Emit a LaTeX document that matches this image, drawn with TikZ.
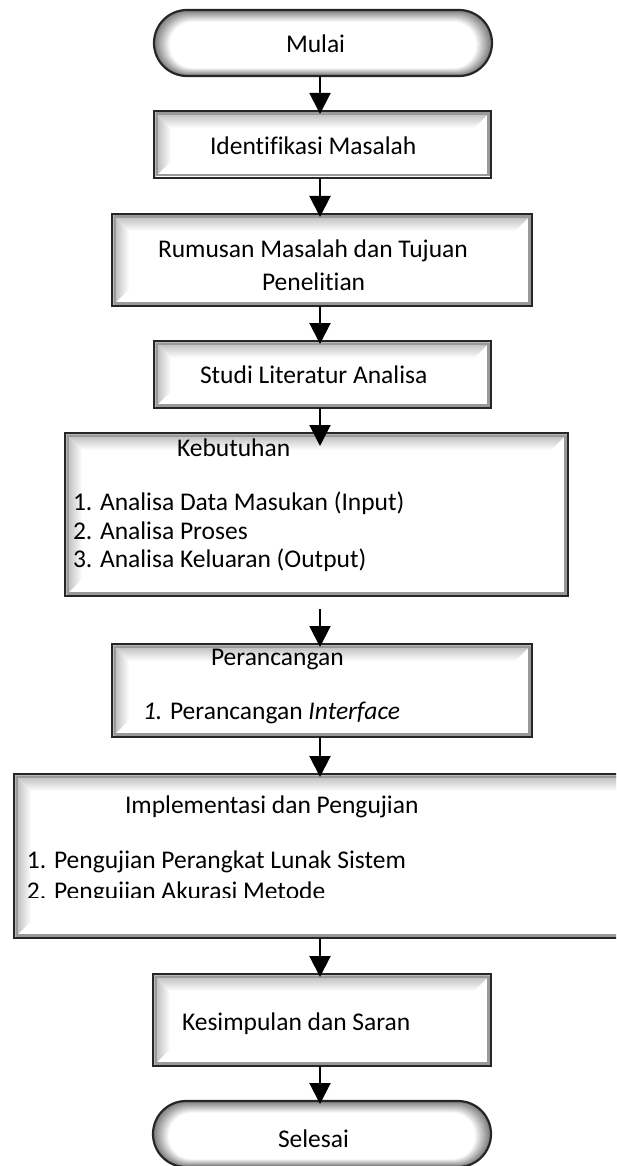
\documentclass[tikz,border=0pt]{standalone}
\usepackage{fontspec}
\setmainfont{Carlito}[Ligatures=NoCommon]
\usetikzlibrary{arrows.meta,calc}

\newcommand{\pillfill}[4]{%
  \foreach \i in {0,...,14}{%
    \pgfmathtruncatemacro{\cc}{max(0,52-4*\i)}%
    \pgfmathsetmacro{\xa}{#1+1.2*\i}%
    \pgfmathsetmacro{\xb}{#3-1.2*\i}%
    \pgfmathsetmacro{\ya}{#2+0.9*\i}%
    \pgfmathsetmacro{\yb}{#4-0.6*\i}%
    \pgfmathsetmacro{\rr}{(\yb-\ya)/2-0.05}%
    \fill[black!\cc, rounded corners=\rr pt] (\xa,\ya) rectangle (\xb,\yb);
  }}

\tikzset{
  bevel/.style={draw=black!85, line width=2.4pt, fill=white, inner sep=0pt, outer sep=0pt,
    path picture={
      \coordinate (NW) at (path picture bounding box.north west);
      \coordinate (NE) at (path picture bounding box.north east);
      \coordinate (SW) at (path picture bounding box.south west);
      \coordinate (SE) at (path picture bounding box.south east);
      \shade[left color=black!30, right color=white] (NW) -- ([shift={(17pt,-17pt)}]NW) -- ([shift={(17pt,17pt)}]SW) -- (SW) -- cycle;
      \shade[top color=black!30, bottom color=white] (NW) -- (NE) -- ([shift={(-17pt,-17pt)}]NE) -- ([shift={(17pt,-17pt)}]NW) -- cycle;
      \draw[black!40, line width=2.2pt] ([shift={(2.6pt,-2.6pt)}]NW) rectangle ([shift={(-2.6pt,2.6pt)}]SE);
    }},
  term/.style={draw=black!85, line width=2.2pt, rounded corners=33pt, inner sep=0pt, outer sep=0pt,
    minimum width=338pt, minimum height=66pt},
  arr/.style={-{Triangle[length=21pt,width=21pt]}, line width=2pt, black, shorten >=-3pt},
  txt/.style={anchor=base west, inner sep=0pt, outer sep=0pt, font=\fontsize{25.5}{30}\selectfont},
}

\begin{document}
\begin{tikzpicture}[x=1pt,y=-1pt]
\useasboundingbox (0,0) rectangle (616,1166);
\clip (0,0) rectangle (616,1166);
\coordinate (ax) at (320,0);

% terminators shading
\pillfill{154}{10}{492}{76}
\node[term] (mulai) at (323,43) {};

\node[bevel, minimum width=337pt, minimum height=67pt] (ident) at (322.5,144.5) {};
\node[bevel, minimum width=420pt, minimum height=92pt] (rumus) at (322,260) {};
\node[bevel, minimum width=337pt, minimum height=67pt] (studi) at (322.5,374.5) {};
\node[bevel, minimum width=503pt, minimum height=163pt] (kebut) at (316.5,514.5) {};
\node[bevel, minimum width=420pt, minimum height=93pt] (peran) at (322,690.5) {};
\node[bevel, minimum width=617pt, minimum height=164pt] (impl) at (322.5,856) {};
\node[bevel, minimum width=338pt, minimum height=92pt] (kesim) at (322,1020) {};

\pillfill{153}{1101}{491}{1167}
\node[term] (selesai) at (322,1134) {};

% texts
\node[txt] (tmulai) at (286,53) {Mulai};
\node[txt] (tident) at (210,155) {Identifikasi Masalah};
\node[txt] (trumus1) at (158,258) {Rumusan Masalah dan Tujuan};
\node[txt] (trumus2) at (262,290) {Penelitian};
\node[txt] (tstudi) at (200,383) {Studi Literatur Analisa};
\node[txt] (tkeb) at (177,456) {Kebutuhan};
\node[txt] (tkeb1) at (73,510) {1. Analisa Data Masukan (Input)};
\node[txt] (tkeb2) at (73,539) {2. Analisa Proses};
\node[txt] (tkeb3) at (73,567) {3. Analisa Keluaran (Output)};
\node[txt] (tper) at (211,665) {Perancangan};
\node[txt] (tper1) at (143,719) {{\itshape 1.} Perancangan {\itshape Interface}};
\node[txt] (timp) at (125,813) {Implementasi dan Pengujian};
\node[txt] (timp1) at (27,868) {1. Pengujian Perangkat Lunak Sistem};
\begin{scope}
\clip (0,870) rectangle (616,897.5);
\node[txt] (timp2) at (27,899) {2. Pengujian Akurasi Metode};
\end{scope}
\node[txt] (tkes) at (182,1030) {Kesimpulan dan Saran};
\node[txt] (tsel) at (278,1147) {Selesai};

% connectors
\draw[arr] (mulai.south -| ax) -- (ident.north -| ax);
\draw[arr] (ident.south -| ax) -- (rumus.north -| ax);
\draw[arr] (rumus.south -| ax) -- (studi.north -| ax);
\draw[arr, shorten >=-13pt] (studi.south -| ax) -- (kebut.north -| ax);
\draw[arr, shorten <=13pt] (kebut.south -| ax) -- (peran.north -| ax);
\draw[arr] (peran.south -| ax) -- (impl.north -| ax);
\draw[arr] (impl.south -| ax) -- (kesim.north -| ax);
\draw[arr] (kesim.south -| ax) -- (selesai.north -| ax);
\end{tikzpicture}
\end{document}
